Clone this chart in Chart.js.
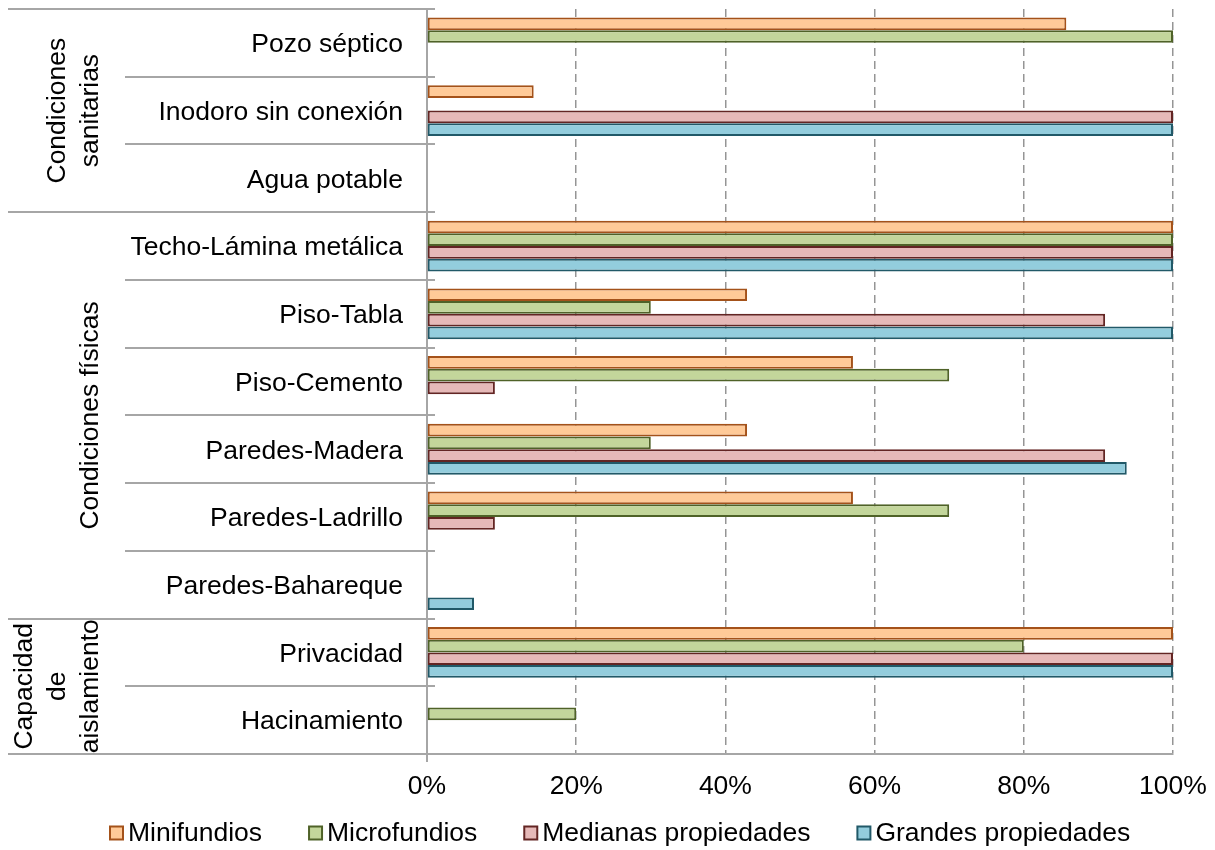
<!DOCTYPE html>
<html lang="es">
<head>
<meta charset="utf-8">
<title>Condiciones de la vivienda por tipo de propiedad</title>
<script src="https://cdn.jsdelivr.net/npm/chart.js@4.4.1/dist/chart.umd.min.js"></script>
<style>
html,body{margin:0;padding:0;background:#fff;overflow:hidden}
#wrap{position:relative;width:1215px;height:850px}
</style>
</head>
<body>
<div id="wrap"><canvas id="cv"></canvas></div>
<script>
// ─── DATA ────────────────────────────────────────────────────
const categories=['Pozo séptico','Inodoro sin conexión','Agua potable','Techo-Lámina metálica','Piso-Tabla','Piso-Cemento','Paredes-Madera','Paredes-Ladrillo','Paredes-Bahareque','Privacidad','Hacinamiento'];
const minifundios=[85.7,14.3,0,100,42.9,57.1,42.9,57.1,0,100,0];
const microfundios=[100,0,0,100,30,70,30,70,0,80,20];
const medianas=[0,100,0,100,90.9,9.1,90.9,9.1,0,100,0];
const grandes=[0,100,0,100,100,0,93.8,0,6.3,100,0];
const seriesNames=['Minifundios','Microfundios','Medianas propiedades','Grandes propiedades'];
const xTicks=[0,20,40,60,80,100];

// category groups shown on the far left (first/last category index)
const groupLabels=[['Condiciones','sanitarias'],['Condiciones físicas'],['Capacidad','de','aislamiento']];
const groupFirst=[0,3,9];
const groupLast=[2,8,10];

// ─── STYLE ───────────────────────────────────────────────────
const FONT='"Liberation Sans", Arial, sans-serif';
const FS=26.5;
const fills=['#FFCA98','#C3D69B','#E6B9B8','#93CDDD'];
const strokes=['#A4521A','#4F6228','#632523','#215968'];
const lineGrey='#A6A6A6';
const AXIS_LEFT=427;

Chart.defaults.font.family=FONT;
Chart.defaults.color='#000';

// drop the label-overhang padding so the plot box sits where the layout puts it
function noPad(s){s.paddingTop=s.paddingBottom=s.paddingLeft=s.paddingRight=0}

// group separators, tick stubs, rotated group titles and the legend row
const groupFrame={id:'groupFrame',
  afterDraw(chart){
    const ctx=chart.ctx,y=chart.scales.y,a=chart.chartArea;
    const bounds=new Set(groupFirst.concat([categories.length]));
    ctx.save();ctx.strokeStyle=lineGrey;ctx.lineWidth=2;
    for(let i=0;i<=categories.length;i++){
      const py=Math.round(y.getPixelForValue(i-0.5));
      const x0=bounds.has(i)?8:125;
      ctx.beginPath();ctx.moveTo(x0,py);ctx.lineTo(a.left+8,py);ctx.stroke();
    }
    ctx.beginPath();ctx.moveTo(a.left,a.bottom);ctx.lineTo(a.left,a.bottom+8);ctx.stroke();
    ctx.fillStyle='#000';ctx.font=FS+'px '+FONT;ctx.textAlign='center';ctx.textBaseline='alphabetic';
    groupLabels.forEach((lines,g)=>{
      const top=y.getPixelForValue(groupFirst[g]-0.5),bot=y.getPixelForValue(groupLast[g]+0.5);
      const cy=(top+bot)/2,n=lines.length;
      lines.forEach((t,k)=>{
        const bx=98-(n-1-k)*33;
        ctx.save();ctx.translate(bx,cy);ctx.rotate(-Math.PI/2);ctx.fillText(t,0,0);ctx.restore();
      });
    });
    // legend
    const ly=833;let lx=110;
    ctx.textAlign='left';ctx.textBaseline='middle';ctx.lineWidth=2;
    seriesNames.forEach((name,i)=>{
      ctx.fillStyle=fills[i];ctx.fillRect(lx,ly-6.5,13,13);
      ctx.strokeStyle=strokes[i];ctx.strokeRect(lx,ly-6.5,13,13);
      ctx.fillStyle='#000';ctx.fillText(name,lx+18,ly+1);
      lx+=18+ctx.measureText(name).width+47;
    });
    ctx.restore();
  }
};

const dsets=[minifundios,microfundios,medianas,grandes].map((d,i)=>({
  label:seriesNames[i],data:d,backgroundColor:fills[i],borderColor:strokes[i],
  borderWidth:2,borderSkipped:false,inflateAmount:0,
  categoryPercentage:0.75,barPercentage:1
}));

new Chart(document.getElementById('cv'),{
  type:'bar',
  data:{labels:categories,datasets:dsets},
  plugins:[groupFrame],
  options:{
    indexAxis:'y',responsive:true,maintainAspectRatio:false,animation:false,
    layout:{padding:{top:9,right:42,left:0,bottom:46}},
    plugins:{tooltip:{enabled:false},legend:{display:false}},
    scales:{
      x:{min:0,max:100,
        afterBuildTicks(s){s.ticks=xTicks.map(v=>({value:v}))},
        afterFit(s){s.height=50;noPad(s)},
        ticks:{font:{size:FS},color:'#000',padding:17,callback:v=>v+'%'},
        grid:{color:c=>c.index===0?'rgba(0,0,0,0)':'#959595',lineWidth:1.5,drawTicks:false},
        border:{display:true,color:lineGrey,width:2,dash:[8,5]}
      },
      y:{
        afterFit(s){s.width=AXIS_LEFT;noPad(s)},
        ticks:{font:{size:FS},color:'#000',padding:24,labelOffset:2},
        grid:{display:false,drawTicks:false},
        border:{display:true,color:lineGrey,width:2}
      }
    }
  }
});
</script>
</body>
</html>
